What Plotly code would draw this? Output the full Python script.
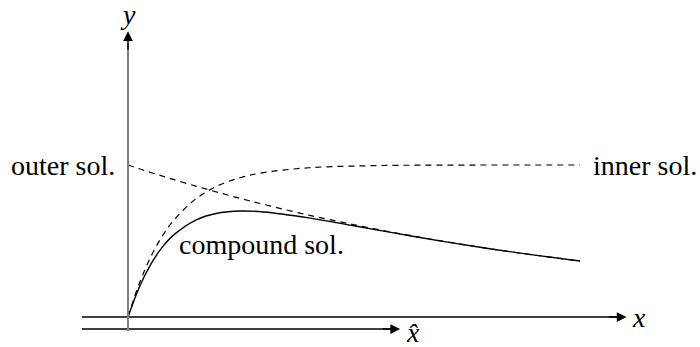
import plotly.graph_objects as go

# Sample positions along the outer coordinate x
x = [0, 0.25, 0.5, 0.75, 1, 1.5, 2, 2.5, 3, 4, 5, 6, 7, 8, 9, 10]

# Inner (boundary-layer) solution: rises to the matching value
inner = [0, 0.221, 0.393, 0.528, 0.632, 0.777, 0.865, 0.918, 0.950,
         0.982, 0.993, 0.998, 0.999, 1.0, 1.0, 1.0]

# Outer solution: slow decay from the matching value
outer = [1.0, 0.975, 0.951, 0.928, 0.905, 0.861, 0.819, 0.779, 0.741,
         0.670, 0.607, 0.549, 0.497, 0.449, 0.407, 0.368]

# Composite (uniformly valid) solution
compound = [0, 0.196, 0.344, 0.456, 0.537, 0.638, 0.684, 0.697, 0.691,
            0.652, 0.600, 0.547, 0.496, 0.449, 0.407, 0.368]

labels = {"outer": "outer sol.", "inner": "inner sol.", "compound": "compound sol."}

FONT = "Liberation Serif"
FS = 28

fig = go.Figure()
dash = "6px,5px"
fig.add_trace(go.Scatter(x=x, y=outer, mode="lines", line=dict(color="black", width=1.2, dash=dash, shape="spline")))
fig.add_trace(go.Scatter(x=x, y=inner, mode="lines", line=dict(color="black", width=1.2, dash=dash, shape="spline")))
fig.add_trace(go.Scatter(x=x, y=compound, mode="lines", line=dict(color="black", width=1.4, shape="spline")))

# Axes drawn as arrows
xmin = -1.02
fig.add_shape(type="line", x0=xmin, x1=10.9, y0=0, y1=0, line=dict(color="black", width=1.5))
fig.add_annotation(x=11.03, y=0, ax=10.6, ay=0, axref="x", ayref="y", xref="x", yref="y",
                   showarrow=True, arrowhead=2, arrowsize=1.3, arrowwidth=1.5, arrowcolor="black", text="")
fig.add_shape(type="line", x0=xmin, x1=5.9, y0=-0.079, y1=-0.079, line=dict(color="black", width=1.5))
fig.add_annotation(x=6.02, y=-0.079, ax=5.6, ay=-0.079, axref="x", ayref="y", xref="x", yref="y",
                   showarrow=True, arrowhead=2, arrowsize=1.3, arrowwidth=1.5, arrowcolor="black", text="")
fig.add_shape(type="line", x0=0, x1=0, y0=-0.092, y1=1.80, line=dict(color="#7f7f7f", width=2))
fig.add_annotation(x=0, y=1.88, ax=0, ay=1.75, axref="x", ayref="y", xref="x", yref="y",
                   showarrow=True, arrowhead=2, arrowsize=1.3, arrowwidth=1.5, arrowcolor="black", text="")

def txt(s, xx, yy, xanchor="center"):
    fig.add_annotation(x=xx, y=yy, text=s, showarrow=False, xanchor=xanchor, yanchor="middle",
                       font=dict(family=FONT, size=FS, color="black"))

txt("<i>y</i>", 0, 1.99)
txt("<i>x</i>", 11.3, 0.0)
txt("<i>x\u0302</i>", 6.3, -0.10)
txt(labels["outer"], -0.24, 1.0, xanchor="right")
txt(labels["inner"], 10.25, 1.0, xanchor="left")
txt(labels["compound"], 1.08, 0.474, xanchor="left")

fig.update_layout(
    width=700, height=347, margin=dict(l=0, r=0, t=0, b=0),
    paper_bgcolor="white", plot_bgcolor="white", showlegend=False,
    font=dict(family=FONT),
    xaxis=dict(range=[-128 / 45.2, 572 / 45.2], visible=False, fixedrange=True),
    yaxis=dict(range=[-30 / 152, 317 / 152], visible=False, fixedrange=True),
)
fig.write_html("out.html")
